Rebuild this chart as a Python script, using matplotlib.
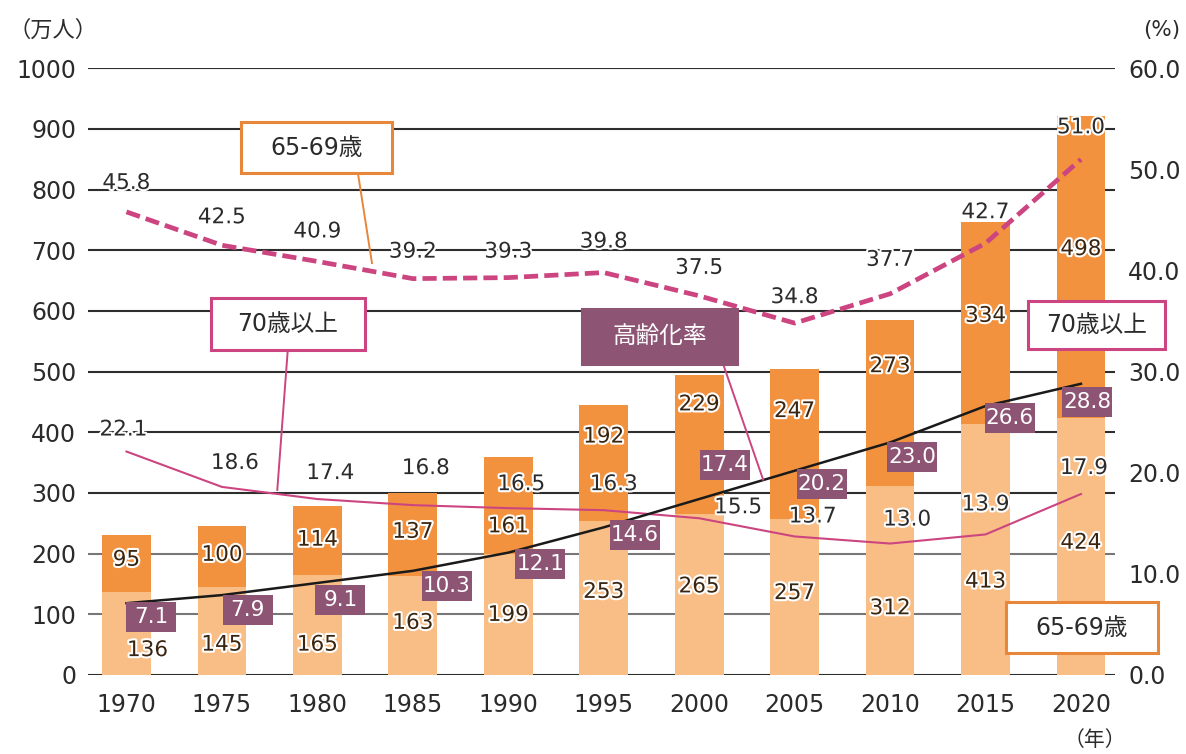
import matplotlib
matplotlib.use("Agg")
import matplotlib.pyplot as plt
import matplotlib.patheffects as pe
from matplotlib.patches import Rectangle
import numpy as np

plt.rcParams['font.family'] = ['DejaVu Sans', 'Noto Sans CJK JP']

# 就業者数（万人）と就業率・高齢化率（%）
years = ['1970', '1975', '1980', '1985', '1990', '1995',
         '2000', '2005', '2010', '2015', '2020']
workers_65_69 = [136, 145, 165, 163, 199, 253, 265, 257, 312, 413, 424]
workers_70_over = [95, 100, 114, 137, 161, 192, 229, 247, 273, 334, 498]
rate_65_69 = [45.8, 42.5, 40.9, 39.2, 39.3, 39.8, 37.5, 34.8, 37.7, 42.7, 51.0]
rate_70_over = [22.1, 18.6, 17.4, 16.8, 16.5, 16.3, 15.5, 13.7, 13.0, 13.9, 17.9]
aging_rate = [7.1, 7.9, 9.1, 10.3, 12.1, 14.6, 17.4, 20.2, 23.0, 26.6, 28.8]

left_ticks = list(range(0, 1001, 100))
right_ticks = [0, 10, 20, 30, 40, 50, 60]

# label placement (pixels at 100 dpi)
bar_top_label_y = [190, 198, 223, 236, 245, 393, 446, 435, 509, 592, 702]
bar_low_label_y = [41, 50, 50, 86, 99, 137, 146, 135, 110, 154, 218]
dash_label_dy = [29, 28, 30, 27, 26, 31, 28, 26, 34, 31, 32]
solid_label_dx = [-3, 13, 13, 13, 13, 10, 39, 18, 17, 0, 3]
solid_label_dy = [22, 24, 26, 37, 24, 26, 11, 20, 24, 30, 26]
box_label_dx = [25, 26, 23, 34, 32, 31, 26, 27, 22, 24, 6]
box_label_dy = [-14, -15, -17, -15, -11, -8, 34, -13, -15, -12, -18]

c_dark = '#F2923F'
c_light = '#F9BE86'
c_pink = '#CC4580'
c_purple = '#8E5474'
c_orange_line = '#E8863A'
c_text = '#2b2b2b'

px_x = 95.45          # pixels per category
px_pct = 606.7 / 60   # pixels per percent

fig = plt.figure(figsize=(11.86, 7.54), dpi=100)
ax = fig.add_axes([0.0742, 0.1048, 0.8659, 0.8046])
ax2 = ax.twinx()

x = np.arange(len(years))

# gridlines
for t in left_ticks:
    gc = '#777777' if t in (100, 200) else '#2e2e2e'
    ax.axhline(t, color=gc, lw=1.5, zorder=0)

ax.bar(x, workers_65_69, width=0.51, color=c_light, zorder=2)
ax.bar(x, workers_70_over, width=0.51, bottom=workers_65_69, color=c_dark, zorder=2)

halo = [pe.withStroke(linewidth=3, foreground='white')]
for i in range(len(years)):
    ax.text(i, bar_top_label_y[i], str(workers_70_over[i]), ha='center', va='center',
            fontsize=15.5, color='#3a2510', zorder=3, path_effects=halo)
    lx = i + (0.22 if i == 0 else 0)
    ax.text(lx, bar_low_label_y[i], str(workers_65_69[i]), ha='center', va='center',
            fontsize=15.5, color='#3a2510', zorder=3, path_effects=halo)

ax.set_xlim(-0.403, 10.356)
ax.set_ylim(0, 1000)
ax.set_yticks(left_ticks)
ax.set_xticks(x)
ax.set_xticklabels(years)
ax.tick_params(axis='y', length=0, labelsize=17, pad=8.5, colors=c_text)
ax.tick_params(axis='x', length=0, labelsize=17, pad=13, colors=c_text)
for s in ax.spines.values():
    s.set_visible(False)

# lines on the percent axis
ax2.set_ylim(0, 60)
ax2.set_yticks(right_ticks)
ax2.set_yticklabels([f'{v:.1f}' for v in right_ticks])
ax2.tick_params(axis='y', length=0, labelsize=17, pad=9.5, colors=c_text)
for s in ax2.spines.values():
    s.set_visible(False)

ax2.plot(x, rate_65_69, color=c_pink, lw=3.4, dashes=(3.0, 1.3),
         dash_capstyle='butt', zorder=3)
ax2.plot(x, rate_70_over, color=c_pink, lw=1.5, zorder=3)
ax2.plot(x, aging_rate, color='#1a1a1a', lw=1.8, zorder=3)

for i in range(len(years)):
    ax2.annotate(f'{rate_65_69[i]:.1f}', (i, rate_65_69[i]),
                 xytext=(0, dash_label_dy[i] * 0.72), textcoords='offset points',
                 ha='center', va='center', fontsize=15.5, color=c_text,
                 path_effects=halo, zorder=5)
    ax2.annotate(f'{rate_70_over[i]:.1f}', (i, rate_70_over[i]),
                 xytext=(solid_label_dx[i] * 0.72, solid_label_dy[i] * 0.72),
                 textcoords='offset points', ha='center', va='center',
                 fontsize=15.5, color=c_text, path_effects=halo, zorder=5)
    cx = i + box_label_dx[i] / px_x
    cy = aging_rate[i] + box_label_dy[i] / px_pct
    ax2.add_patch(Rectangle((cx - 25 / px_x, cy - 15 / px_pct), 50 / px_x, 30 / px_pct,
                            facecolor=c_purple, edgecolor='none', zorder=6))
    ax2.text(cx, cy, f'{aging_rate[i]:.1f}', ha='center', va='center',
             fontsize=15.5, color='white', zorder=7)


def callout(x0, x1, y0, y1, text, edge, face='white', tcolor=c_text):
    # box given in category / 万人 units
    ax2.add_patch(Rectangle((x0, y0), x1 - x0, y1 - y0, transform=ax.transData,
                            facecolor=face, edgecolor=edge, lw=2.2, zorder=8,
                            clip_on=False))
    ax2.text((x0 + x1) / 2, (y0 + y1) / 2, text, transform=ax.transData,
             ha='center', va='center', fontsize=17, color=tcolor, zorder=9,
             clip_on=False)


def leader(p0, p1, color):
    ax2.plot([p0[0], p1[0]], [p0[1], p1[1]], transform=ax.transData,
             color=color, lw=1.4, zorder=7, clip_on=False)


leader((2.425, 827), (2.572, 679), c_orange_line)
callout(1.20, 2.78, 827, 911, '65-69歳', c_orange_line)

leader((1.69, 536), (1.58, 305), c_pink)
callout(0.885, 2.50, 536, 621, '70歳以上', c_pink)

leader((6.25, 513), (6.67, 322), c_pink)
callout(4.77, 6.40, 513, 603, '高齢化率', c_purple, face=c_purple, tcolor='white')

callout(9.445, 10.88, 537, 616, '70歳以上', c_pink)
callout(9.214, 10.806, 36, 120, '65-69歳', c_orange_line)

fig.text(8 / 1186, 1 - 30 / 754, '（万人）', ha='left', va='center',
         fontsize=16, color=c_text, family=['Noto Sans CJK JP'])
fig.text(1180 / 1186, 1 - 30 / 754, '(%)', ha='right', va='center',
         fontsize=15.5, color=c_text)
fig.text(1095 / 1186, 1 - 740 / 754, '（年）', ha='center', va='center',
         fontsize=15, color=c_text, family=['Noto Sans CJK JP'])

fig.savefig('out.png', dpi=100)
